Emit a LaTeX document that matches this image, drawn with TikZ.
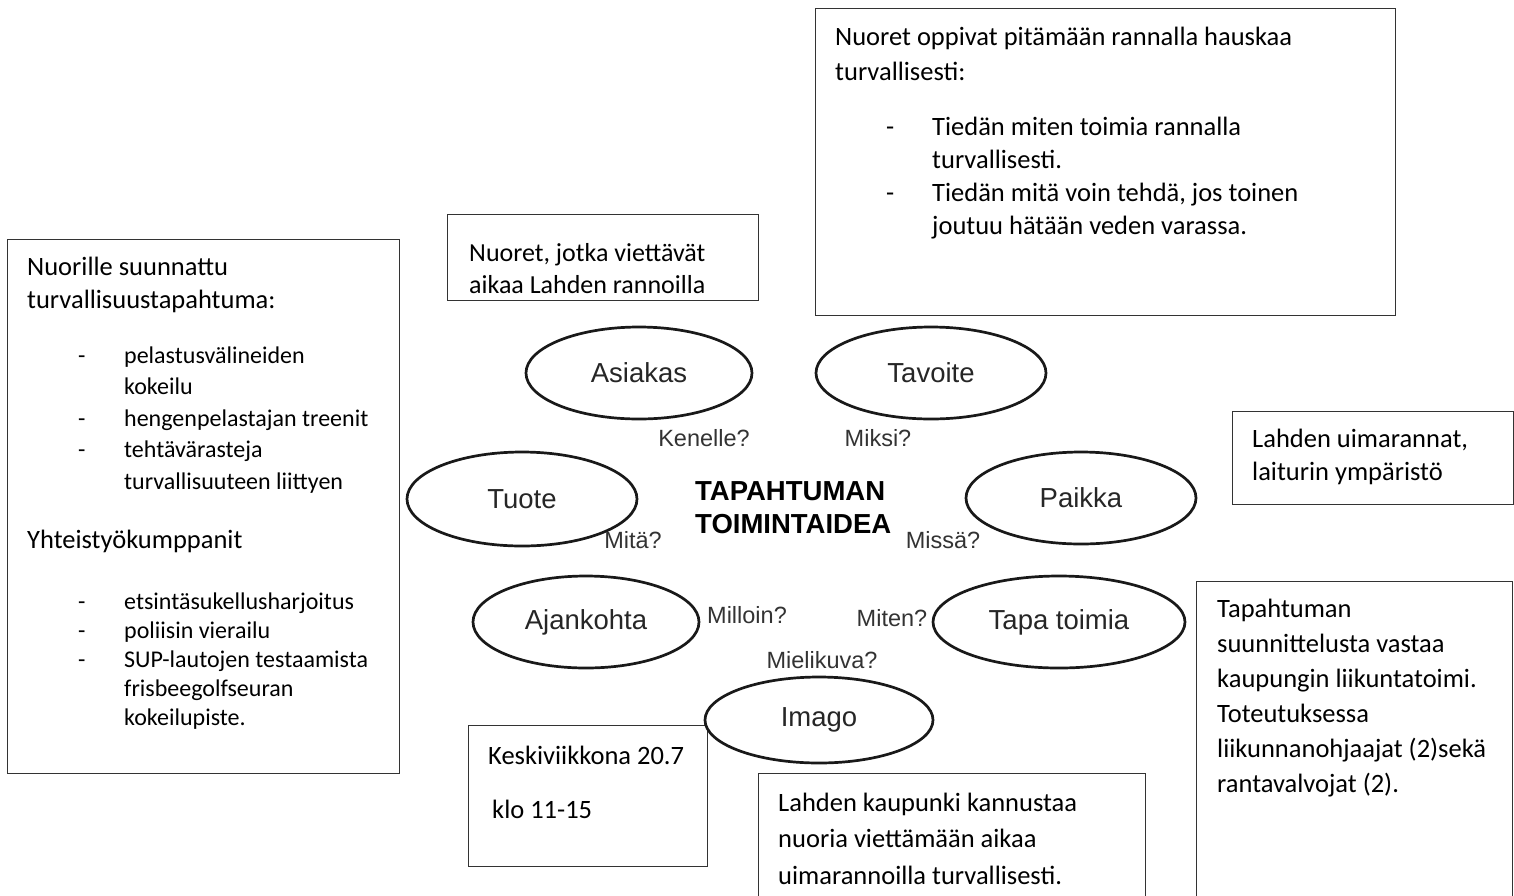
\documentclass[tikz,border=0pt]{standalone}
\usepackage{fontspec}
\setmainfont{Carlito}
\newfontfamily\arialfont{Liberation Sans}
\usetikzlibrary{shapes.geometric,positioning}

\newcommand{\kohta}{\makebox[46pt][l]{-}}
\newcommand{\jatko}{\hspace*{46pt}}

\tikzset{
  kuvio/.style={ellipse, draw=black!90, fill=white, line width=2.7pt, inner sep=0pt,
    minimum height=92pt, font=\arialfont\fontsize{27.5}{30}\selectfont, text=black!85},
  kysymys/.style={inner sep=0pt, font=\arialfont\fontsize{23.5}{26}\selectfont, text=black!80},
  laatikko/.style={draw=black!80, line width=1.3pt, inner sep=0pt, anchor=north west},
  % teksti: base west = viimeisen rivin perusviiva
  teksti/.style={anchor=base west, align=left, inner sep=0pt, font=\fontsize{26.5}{33}\selectfont},
}

\begin{document}
\begin{tikzpicture}[x=1pt,y=-1pt]
\useasboundingbox (0,0) rectangle (1514,895);
% laatikot
\node[laatikko, minimum width=392pt, minimum height=534pt] (tuotebox) at (7,239) {};
\node[laatikko, minimum width=580pt, minimum height=307pt] (tavoitebox) at (815,8) {};
\node[laatikko, minimum width=311pt, minimum height=86pt] (asiakasbox) at (447,214) {};
\node[laatikko, minimum width=281pt, minimum height=93pt] (paikkabox) at (1232,411) {};
\node[laatikko, minimum width=316pt, minimum height=330pt] (tapabox) at (1196,581) {};
\node[laatikko, minimum width=239pt, minimum height=141pt] (aikabox) at (468,725) {};
\node[laatikko, minimum width=387pt, minimum height=140pt] (imagobox) at (758,773) {};

% laatikoiden tekstit
\node[teksti] (tuoteotsikko) at (27,308) {Nuorille suunnattu\\turvallisuustapahtuma:};
\node[teksti, font=\fontsize{24}{31.5}\selectfont] (tuotelista) at (78,489)
  {\kohta pelastusvälineiden\\\jatko kokeilu\\\kohta hengenpelastajan treenit\\\kohta tehtävärasteja\\\jatko turvallisuuteen liittyen};
\node[teksti] (yhteisotsikko) at (27,548) {Yhteistyökumppanit};
\node[teksti, font=\fontsize{24}{29}\selectfont] (yhteislista) at (78,725)
  {\kohta etsintäsukellusharjoitus\\\kohta poliisin vierailu\\\kohta SUP-lautojen testaamista\\\jatko frisbeegolfseuran\\\jatko kokeilupiste.};
\node[teksti, font=\fontsize{26.5}{35}\selectfont] (tavoiteotsikko) at (835,80)
  {Nuoret oppivat pitämään rannalla hauskaa\\turvallisesti:};
\node[teksti] (tavoitelista) at (886,234)
  {\kohta Tiedän miten toimia rannalla\\\jatko turvallisesti.\\\kohta Tiedän mitä voin tehdä, jos toinen\\\jatko joutuu hätään veden varassa.};
\node[teksti, font=\fontsize{26}{32}\selectfont] (asiakasteksti) at (469,293) {Nuoret, jotka viettävät\\aikaa Lahden rannoilla};
\node[teksti] (paikkateksti) at (1252,480) {Lahden uimarannat,\\laiturin ympäristö};
\node[teksti, font=\fontsize{26.5}{35}\selectfont] (tapateksti) at (1217,792)
  {Tapahtuman\\suunnittelusta vastaa\\kaupungin liikuntatoimi.\\Toteutuksessa\\liikunnanohjaajat (2)sekä\\rantavalvojat (2).};
\node[teksti] (aikateksti) at (488,818) {Keskiviikkona 20.7\\[21pt]\hspace*{4pt}klo 11-15};
\node[teksti, font=\fontsize{26.5}{36.5}\selectfont] (imagoteksti) at (778,884)
  {Lahden kaupunki kannustaa\\nuoria viettämään aikaa\\uimarannoilla turvallisesti.};

% ellipsit
\node[kuvio, minimum width=226pt] (asiakas) at (639,373) {Asiakas};
\node[kuvio, minimum width=230pt] (tavoite) at (931,373) {Tavoite};
\node[kuvio, minimum width=230pt, minimum height=94pt] (tuote) at (522,499) {Tuote};
\node[kuvio, minimum width=230pt] (paikka) at (1081,498) {Paikka};
\node[kuvio, minimum width=226pt] (ajankohta) at (586,622) {Ajankohta};
\node[kuvio, minimum width=252pt] (tapa) at (1059,622) {Tapa toimia};
\node[kuvio, minimum width=228pt, minimum height=86pt] (imago) at (819,720) {Imago};

% keskella
\node[align=left, inner sep=0pt, anchor=west, font=\arialfont\bfseries\fontsize{27.5}{33}\selectfont]
  (otsikko) at (695,508) {TAPAHTUMAN\\TOIMINTAIDEA};

% kysymykset
\node[kysymys] (kenelle) at (704,438) {Kenelle?};
\node[kysymys] (miksi) at (878,438) {Miksi?};
\node[kysymys] (mita) at (633,540) {Mitä?};
\node[kysymys] (missa) at (943,540) {Missä?};
\node[kysymys] (milloin) at (747,615) {Milloin?};
\node[kysymys] (miten) at (892,618) {Miten?};
\node[kysymys] (mielikuva) at (822,660) {Mielikuva?};
\end{tikzpicture}
\end{document}
